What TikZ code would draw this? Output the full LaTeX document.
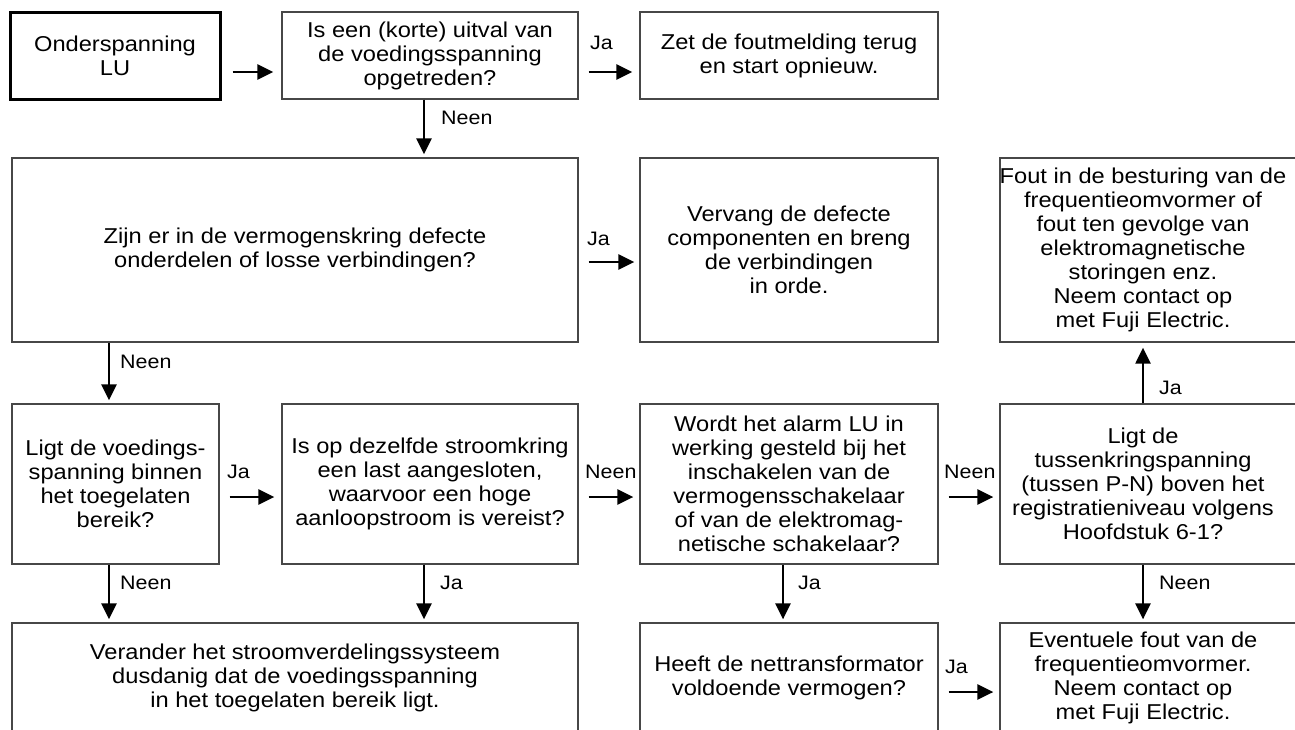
\documentclass[tikz,border=0pt]{standalone}
\usepackage{fontspec}
\setmainfont{Liberation Sans}[FakeStretch=1.1]
\usetikzlibrary{arrows.meta}
\begin{document}
\begin{tikzpicture}[x=1pt,y=-1pt,
  box/.style={draw=black!72, line width=1.3pt, rectangle, inner sep=0pt, align=center,
    font=\fontsize{21.5}{24}\selectfont},
  startbox/.style={box, draw=black, line width=3pt},
  txt/.style={inner sep=0pt, align=center, font=\fontsize{21.5}{24}\selectfont},
  lbl/.style={inner sep=0pt, anchor=west, font=\fontsize{19.5}{21}\selectfont},
  arr/.style={draw=black, line width=2.4pt, -{Triangle[length=16pt,width=15pt]}}]
\useasboundingbox (0,0) rectangle (1295,729);
\begin{scope}
\clip (0,0) rectangle (1295,729);
% first row
\node[startbox, minimum width=210, minimum height=87] (A) at (115,55.5) {Onderspanning\\LU};
\node[box, minimum width=296, minimum height=87] (B) at (430,55.5)
  {Is een (korte) uitval van\\de voedingsspanning\\opgetreden?};
\node[box, minimum width=298, minimum height=87] (C) at (789,55.5)
  {Zet de foutmelding terug\\en start opnieuw.};
% second row
\node[box, minimum width=566, minimum height=184] (D) at (295,250)
  {Zijn er in de vermogenskring defecte\\onderdelen of losse verbindingen?};
\node[box, minimum width=298, minimum height=184] (E) at (789,250)
  {Vervang de defecte\\componenten en breng\\de verbindingen\\in orde.};
\node[box, minimum width=300, minimum height=184] (F) at (1150,250) {};
\node[txt] (Ft) at (1143,250)
  {Fout in de besturing van de\\frequentieomvormer of\\fout ten gevolge van\\elektromagnetische\\storingen enz.\\Neem contact op\\met Fuji Electric.};
% third row
\node[box, minimum width=207, minimum height=160] (G) at (115.5,484)
  {Ligt de voedings-\\spanning binnen\\het toegelaten\\bereik?};
\node[box, minimum width=296, minimum height=160] (H) at (430,484)
  {Is op dezelfde stroomkring\\een last aangesloten,\\waarvoor een hoge\\aanloopstroom is vereist?};
\node[box, minimum width=298, minimum height=160] (I) at (789,484)
  {Wordt het alarm LU in\\werking gesteld bij het\\inschakelen van de\\vermogensschakelaar\\of van de elektromag-\\netische schakelaar?};
\node[box, minimum width=300, minimum height=160] (J) at (1150,484) {};
\node[txt] (Jt) at (1143,484)
  {Ligt de\\tussenkringspanning\\(tussen P-N) boven het\\registratieniveau volgens\\Hoofdstuk 6-1?};
% fourth row
\node[box, minimum width=566, minimum height=110] (K) at (295,678)
  {Verander het stroomverdelingssysteem\\dusdanig dat de voedingsspanning\\in het toegelaten bereik ligt.};
\node[box, minimum width=298, minimum height=110] (L) at (789,678)
  {Heeft de nettransformator\\voldoende vermogen?};
\node[box, minimum width=300, minimum height=110] (M) at (1150,678) {};
\node[txt] (Mt) at (1143,678)
  {Eventuele fout van de\\frequentieomvormer.\\Neem contact op\\met Fuji Electric.};
% horizontal connectors
\draw[arr, shorten <=11pt, shorten >=8pt] ([yshift=-16.5pt]A.east) -- ([yshift=-16.5pt]B.west);
\draw[arr, shorten <=10pt, shorten >=7pt] ([yshift=-16.5pt]B.east) -- ([yshift=-16.5pt]C.west);
\draw[arr, shorten <=10pt, shorten >=5pt] ([yshift=-12pt]D.east) -- ([yshift=-12pt]E.west);
\draw[arr, shorten <=10pt, shorten >=7pt] ([yshift=-13pt]G.east) -- ([yshift=-13pt]H.west);
\draw[arr, shorten <=10pt, shorten >=6pt] ([yshift=-13pt]H.east) -- ([yshift=-13pt]I.west);
\draw[arr, shorten <=10pt, shorten >=6pt] ([yshift=-13pt]I.east) -- ([yshift=-13pt]J.west);
\draw[arr, shorten <=10pt, shorten >=6pt] ([yshift=-14pt]L.east) -- ([yshift=-14pt]M.west);
% vertical connectors
\coordinate (bd) at ([xshift=-6pt]B.south);
\draw[arr, shorten >=3pt] (bd) -- (bd |- D.north);
\coordinate (dg) at ([xshift=-6.5pt]G.north);
\draw[arr, shorten >=3pt] (dg |- D.south) -- (dg);
\coordinate (gk) at ([xshift=-6.5pt]G.south);
\draw[arr, shorten >=3pt] (gk) -- (gk |- K.north);
\coordinate (hk) at ([xshift=-6pt]H.south);
\draw[arr, shorten >=3pt] (hk) -- (hk |- K.north);
\coordinate (il) at ([xshift=-6pt]I.south);
\draw[arr, shorten >=3pt] (il) -- (il |- L.north);
\coordinate (jm) at (Jt |- J.south);
\draw[arr, shorten >=3pt] (jm) -- (jm |- M.north);
\coordinate (jf) at (Jt |- J.north);
\draw[arr, shorten >=5pt] (jf) -- (jf |- F.south);
% connector labels
\node[lbl] (l1) at (590,43) {Ja};
\node[lbl] (l2) at (441,118) {Neen};
\node[lbl] (l3) at (587,239) {Ja};
\node[lbl] (l4) at (120,362) {Neen};
\node[lbl] (l5) at (227,472) {Ja};
\node[lbl] (l6) at (585,472) {Neen};
\node[lbl] (l7) at (944,472) {Neen};
\node[lbl] (l8) at (1159,388) {Ja};
\node[lbl] (l9) at (120,583) {Neen};
\node[lbl] (l10) at (440,583) {Ja};
\node[lbl] (l11) at (798,583) {Ja};
\node[lbl] (l12) at (1159,583) {Neen};
\node[lbl] (l13) at (945,667) {Ja};
\end{scope}
\end{tikzpicture}
\end{document}
